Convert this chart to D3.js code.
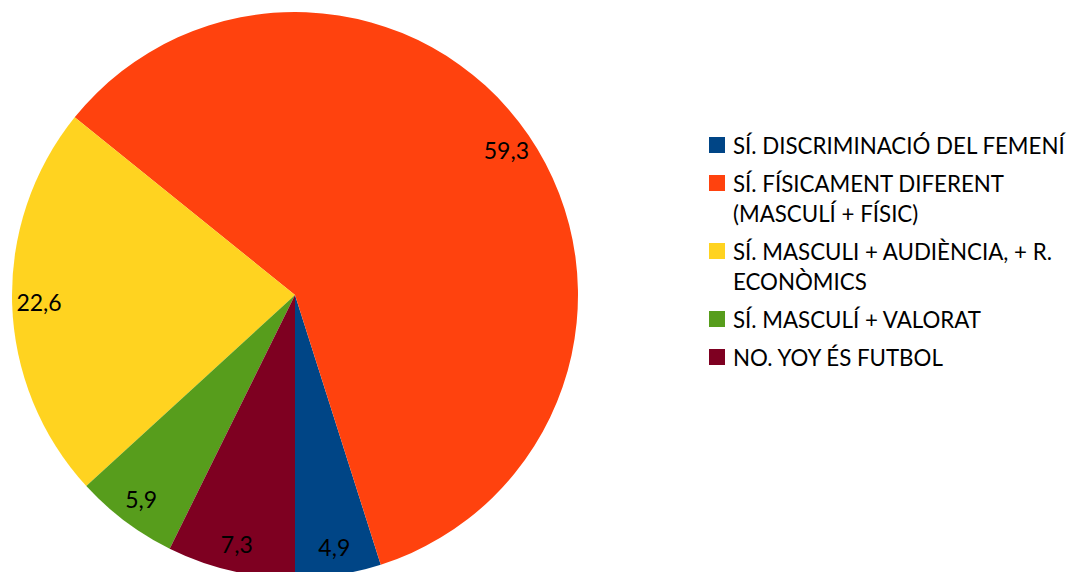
<!DOCTYPE html>
<html>
<head>
<meta charset="utf-8">
<script src="https://cdn.jsdelivr.net/npm/d3@7"></script>
<style>
  html, body { margin: 0; padding: 0; background: #fff; }
  svg { display: block; }
  text { font-family: Lato, "Open Sans", sans-serif; fill: #000; }
</style>
</head>
<body>
<svg id="chart" width="1081" height="572"></svg>
<script>
const categories = [
  ["SÍ. DISCRIMINACIÓ DEL FEMENÍ"],
  ["SÍ. FÍSICAMENT DIFERENT", "(MASCULÍ + FÍSIC)"],
  ["SÍ. MASCULI + AUDIÈNCIA, + R.", "ECONÒMICS"],
  ["SÍ. MASCULÍ + VALORAT"],
  ["NO. YOY ÉS FUTBOL"]
];
const values = [4.9, 59.3, 22.6, 5.9, 7.3];
const valueLabels = ["4,9", "59,3", "22,6", "5,9", "7,3"];
const colors = ["#004586", "#ff420e", "#ffd320", "#579d1c", "#7e0021"];

const svg = d3.select("#chart");
const cx = 295, cy = 295, r = 283;

const pie = d3.pie().sort(null).value(d => d)
  .startAngle(Math.PI).endAngle(-Math.PI);
const arcs = pie(values);
const arc = d3.arc().innerRadius(0).outerRadius(r);
const labelArc = d3.arc().innerRadius(r * 0.905).outerRadius(r * 0.905);

const g = svg.append("g").attr("transform", `translate(${cx},${cy})`);
g.selectAll("path").data(arcs).join("path")
  .attr("d", arc)
  .attr("fill", (d, i) => colors[i]);

g.selectAll("text").data(arcs).join("text")
  .attr("transform", d => `translate(${labelArc.centroid(d)})`)
  .attr("text-anchor", "middle")
  .attr("dy", "0.36em")
  .style("font-size", "23px")
  .text((d, i) => valueLabels[i]);

// legend
const legend = svg.append("g").attr("transform", "translate(709,0)");
const lineH = 30, itemGap = 38;
let y = 154;
categories.forEach((lines, i) => {
  const item = legend.append("g");
  item.append("rect")
    .attr("x", 0).attr("y", y - 17)
    .attr("width", 16).attr("height", 16)
    .attr("fill", colors[i]);
  lines.forEach((t, j) => {
    item.append("text")
      .attr("x", 24).attr("y", y + j * lineH)
      .style("font-size", "22.3px")
      .text(t);
  });
  y += (lines.length - 1) * lineH + itemGap;
});
</script>
</body>
</html>
